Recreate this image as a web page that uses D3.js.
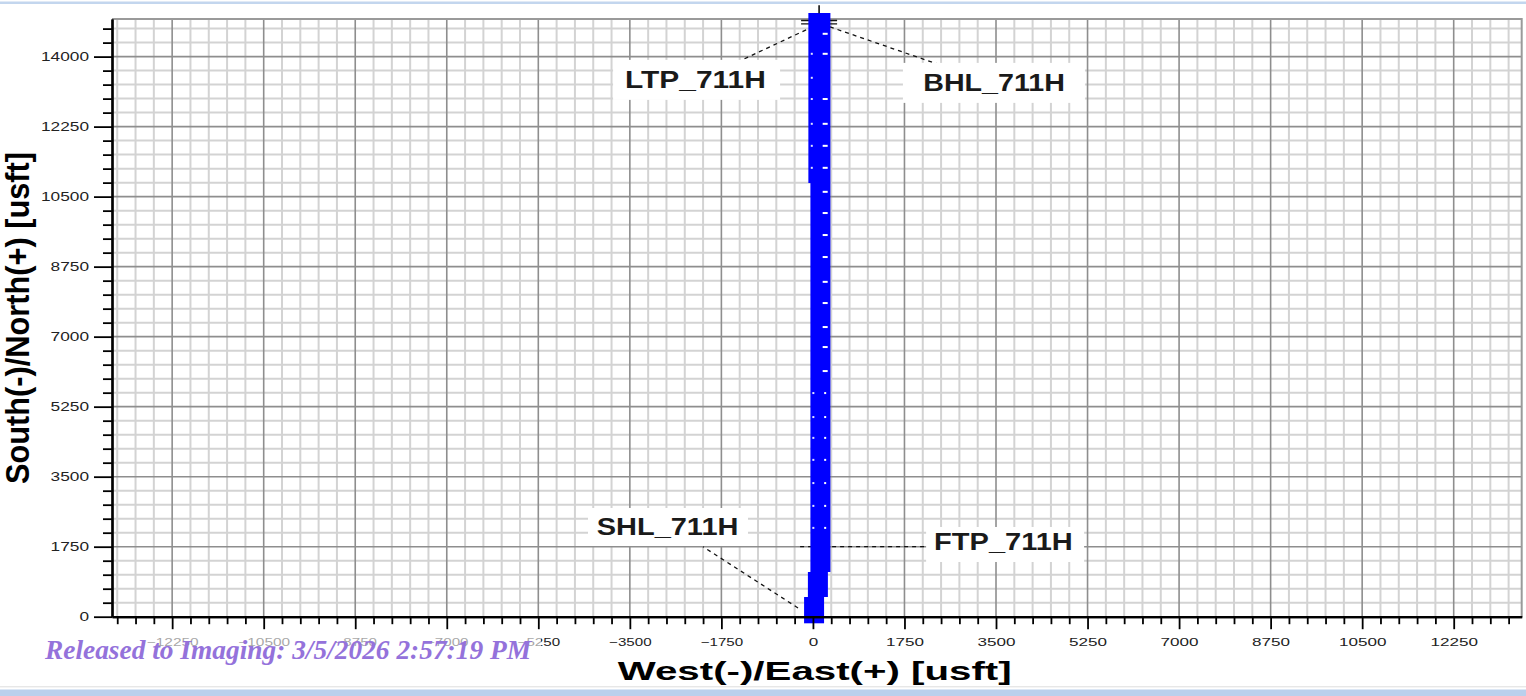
<!DOCTYPE html>
<html>
<head>
<meta charset="utf-8">
<script src="https://cdn.jsdelivr.net/npm/d3@7"></script>
<style>
  body { margin: 0; background: #fff; }
  svg { display: block; }
</style>
</head>
<body>
<svg id="chart" width="1526" height="696"></svg>
<script>
// axis tick values (usft)
const xTickValues = [-12250, -10500, -8750, -7000, -5250, -3500, -1750, 0, 1750, 3500, 5250, 7000, 8750, 10500, 12250];
const yTickValues = [0, 1750, 3500, 5250, 7000, 8750, 10500, 12250, 14000];

// well path drawn as thick segments: east offset, north from, north to
const wellE  = [22, 95, 143, 104];
const wellN0 = [-165, 492, 1117, 10842];
const wellN1 = [492, 1117, 15092, 15092];

// survey station marks along the path
const markRightN = [14570, 14070, 12940, 12320, 11770, 11220, 10620, 10090, 9540, 8990, 8370, 7840, 7240, 6740, 6140, 5590, 4990, 4470, 3920, 3340, 2770, 2220];
const markLeftN  = [14070, 13470, 12940, 12320, 11770, 11220, 5590, 4990, 4470, 3920, 3340, 2770, 2220];
const markLeftE  = [-22, -22, -22, -22, -22, -22, 8, 8, 8, 8, 8, 8, 8];

// target annotations: name and the well point the leader points to
const labelNames = ['LTP_711H', 'BHL_711H', 'SHL_711H', 'FTP_711H'];
const labelE = [-131, 325, -285, -245];
const labelN = [14668, 14743, 218, 1750];

const targetE = 118, targetN = 14860;

const xTitle = 'West(-)/East(+) [usft]';
const yTitle = 'South(-)/North(+) [usft]';
const stampText = 'Released to Imaging: 3/5/2026 2:57:19 PM';

const svg = d3.select('#chart');
const W = 1526, H = 696;
const FONT = 'Arial, "Liberation Sans", sans-serif';
const fmt = d3.format('d');

const x = d3.scaleLinear().domain([-13400, 13550]).range([112, 1521.7]);
const y = d3.scaleLinear().domain([0, 14940]).range([616.7, 19]);
const [x0, x1] = x.range();
const [y0, y1] = y.range();

// frame bands of the screenshot
svg.append('rect').attr('x', 0).attr('y', 1.5).attr('width', W).attr('height', 2.5).attr('fill', '#c3d6ee');
svg.append('line').attr('x1', 0).attr('x2', W).attr('y1', 686.8).attr('y2', 686.8)
    .attr('stroke', '#dddddd').attr('stroke-width', 1);
svg.append('rect').attr('x', 0).attr('y', 689.5).attr('width', W).attr('height', 6.5).attr('fill', '#bad0ec');

// grid
const minorX = d3.range(-13300, 13551, 350).filter(v => v % 1750 !== 0);
const minorY = d3.range(350, 14941, 350).filter(v => v % 1750 !== 0);

const grid = svg.append('g');
grid.selectAll('.gx-minor').data(minorX).enter().append('line')
    .attr('x1', d => x(d)).attr('x2', d => x(d)).attr('y1', y1).attr('y2', y0)
    .attr('stroke', '#d3d3d3').attr('stroke-width', 2);
grid.selectAll('.gy-minor').data(minorY).enter().append('line')
    .attr('y1', d => y(d)).attr('y2', d => y(d)).attr('x1', x0).attr('x2', x1)
    .attr('stroke', '#d3d3d3').attr('stroke-width', 2);
grid.selectAll('.gx-major').data(xTickValues).enter().append('line')
    .attr('x1', d => x(d)).attr('x2', d => x(d)).attr('y1', y1).attr('y2', y0)
    .attr('stroke', '#8e8e8e').attr('stroke-width', 1.6);
grid.selectAll('.gy-major').data(yTickValues.filter(v => v > 0)).enter().append('line')
    .attr('y1', d => y(d)).attr('y2', d => y(d)).attr('x1', x0).attr('x2', x1)
    .attr('stroke', '#8e8e8e').attr('stroke-width', 1.6);

// top / right border
svg.append('path')
    .attr('d', `M${x0},${y1}H${x1}V${y0}`)
    .attr('fill', 'none').attr('stroke', '#9a9a9a').attr('stroke-width', 2);

// label layout, pixel offsets from the anchor point
const layout = [
    { lx: -64, ly: 30, bx: -193, by: 30, bw: 167, bh: 40, tx: -181, ty: 58.3, tw: 140.7 },
    { lx: 110, ly: 38, bx: 73, by: 36, bw: 182, bh: 40, tx: 93.3, ty: 64.5, tw: 141.7 },
    { lx: -95, ly: -61.3, bx: -210, by: -100, bw: 160, bh: 38, tx: -201.3, ty: -73, tw: 141.7 },
    { lx: 125, ly: 0, bx: 126, by: -19.7, bw: 158, bh: 35, tx: 134, ty: 3.3, tw: 138.7 }
];
const labels = labelNames.map((name, i) => ({ name, px: x(labelE[i]), py: y(labelN[i]), ...layout[i] }));

// dashed leaders
svg.selectAll('.leader').data(labels).enter().append('line')
    .attr('x1', d => d.px).attr('y1', d => d.py)
    .attr('x2', d => d.px + d.lx).attr('y2', d => d.py + d.ly)
    .attr('stroke', '#111').attr('stroke-width', 1.3).attr('stroke-dasharray', '4,4');

// target cross at the end of the lateral
const tx = x(targetE), ty = y(targetN);
svg.append('g').selectAll('line').data([-1.7, 1.7]).enter().append('line')
    .attr('x1', tx - 18).attr('x2', tx + 18).attr('y1', d => ty + d).attr('y2', d => ty + d)
    .attr('stroke', '#111').attr('stroke-width', 1.3);

// well path
svg.selectAll('.well').data(wellE).enter().append('line')
    .attr('x1', d => x(d)).attr('x2', d => x(d))
    .attr('y1', (d, i) => y(wellN0[i])).attr('y2', (d, i) => y(wellN1[i]))
    .attr('stroke', '#0000ff').attr('stroke-width', 20).attr('stroke-linecap', 'butt');

svg.append('line').attr('x1', tx).attr('x2', tx).attr('y1', ty - 17).attr('y2', ty - 9)
    .attr('stroke', '#111').attr('stroke-width', 1.6);

// station marks
svg.selectAll('.mark-r').data(markRightN).enter().append('rect')
    .attr('x', d => x(234) - (d > 6000 ? 2.5 : 1)).attr('y', d => y(d) - 1)
    .attr('width', d => d > 6000 ? 5 : 2).attr('height', 2).attr('fill', '#fff');
svg.selectAll('.mark-l').data(markLeftN).enter().append('rect')
    .attr('x', (d, i) => x(markLeftE[i]) - 1).attr('y', d => y(d) - 1)
    .attr('width', 2).attr('height', 2).attr('fill', '#dfe3ff');

// label boxes and texts
const lab = svg.selectAll('.lab').data(labels).enter().append('g');
lab.append('rect')
    .attr('x', d => d.px + d.bx).attr('y', d => d.py + d.by)
    .attr('width', d => d.bw).attr('height', d => d.bh).attr('fill', '#fff');
lab.append('text')
    .attr('x', d => d.px + d.tx).attr('y', d => d.py + d.ty)
    .attr('textLength', d => d.tw).attr('lengthAdjust', 'spacingAndGlyphs')
    .attr('font-family', FONT).attr('font-weight', 'bold').attr('font-size', 23)
    .attr('fill', '#1a1a1a').text(d => d.name);

// axes
const axisY = svg.append('g').attr('transform', `translate(${x0},0)`);
axisY.call(d3.axisLeft(y).tickValues(minorY).tickSize(9).tickSizeOuter(0).tickFormat(''));
axisY.selectAll('.tick line').attr('stroke', '#000').attr('stroke-width', 1.8);
const axisYMajor = svg.append('g').attr('transform', `translate(${x0},0)`);
axisYMajor.call(d3.axisLeft(y).tickValues(yTickValues).tickFormat(fmt).tickSize(18).tickSizeOuter(0).tickPadding(5));
axisYMajor.selectAll('.tick line').attr('stroke', '#000').attr('stroke-width', 1.8);
axisYMajor.selectAll('.tick text')
    .attr('font-family', FONT).attr('font-size', 13).attr('fill', '#222')
    .attr('textLength', d => fmt(d).length * 9.6).attr('lengthAdjust', 'spacingAndGlyphs');

const axisX = svg.append('g').attr('transform', `translate(0,${y0})`);
axisX.call(d3.axisBottom(x).tickValues(minorX).tickSize(7.5).tickSizeOuter(0).tickFormat(''));
axisX.selectAll('.tick line').attr('stroke', '#000').attr('stroke-width', 1.8);
const axisXMajor = svg.append('g').attr('transform', `translate(0,${y0})`);
axisXMajor.call(d3.axisBottom(x).tickValues(xTickValues).tickFormat(fmt).tickSize(12.5).tickSizeOuter(0));
axisXMajor.selectAll('.tick line').attr('stroke', '#000').attr('stroke-width', 1.8);
axisXMajor.selectAll('.tick text')
    .attr('y', 29.8).attr('dy', 0)
    .attr('font-family', FONT).attr('font-size', 11).attr('fill', '#222')
    .attr('textLength', d => String(Math.abs(d)).length * 9.5 + (d < 0 ? 4.5 : 0))
    .attr('lengthAdjust', 'spacingAndGlyphs');

[axisY, axisYMajor, axisX, axisXMajor].forEach(a =>
    a.select('.domain').attr('stroke', '#000').attr('stroke-width', 2.2));

// axis titles
svg.append('text')
    .attr('x', 814.7).attr('y', 680)
    .attr('text-anchor', 'middle')
    .attr('font-family', FONT).attr('font-weight', 'bold').attr('font-size', 26)
    .attr('textLength', 394).attr('lengthAdjust', 'spacingAndGlyphs')
    .attr('fill', '#000').text(xTitle);

svg.append('text')
    .attr('transform', 'translate(29,318) scale(1.08,1) rotate(-90)')
    .attr('text-anchor', 'middle')
    .attr('font-family', FONT).attr('font-weight', 'bold').attr('font-size', 31)
    .attr('textLength', 332).attr('lengthAdjust', 'spacingAndGlyphs')
    .attr('fill', '#000').text(yTitle);

// release stamp
svg.append('rect').attr('x', 40).attr('y', 633).attr('width', 501).attr('height', 35)
    .attr('fill', '#fff').attr('opacity', 0.6);
svg.append('text')
    .attr('x', 45).attr('y', 659)
    .attr('font-family', '"Times New Roman", "Liberation Serif", serif')
    .attr('font-weight', 'bold').attr('font-style', 'italic').attr('font-size', 27)
    .attr('textLength', 486).attr('lengthAdjust', 'spacingAndGlyphs')
    .attr('fill', '#9472db').text(stampText);
</script>
</body>
</html>
